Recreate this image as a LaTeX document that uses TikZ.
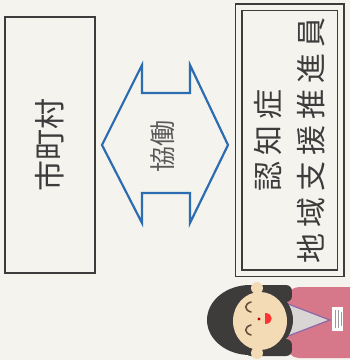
\documentclass[tikz,border=0pt]{standalone}
\usepackage{fontspec}
\setmainfont{Noto Sans CJK JP}
\newfontfamily\widefont[LetterSpace=20]{Noto Sans CJK JP}

\definecolor{paper}{HTML}{F5F3EE}
\definecolor{ink}{HTML}{3C3C3C}
\definecolor{kyoblue}{HTML}{2C6DB2}
\definecolor{hair}{HTML}{3E3B3B}
\definecolor{skin}{HTML}{F3DBB6}
\definecolor{coat}{HTML}{D7788A}
\definecolor{shirt}{HTML}{DAD5D5}
\definecolor{lanyard}{HTML}{8A6AA8}

\begin{document}
\begin{tikzpicture}[x=1pt,y=-1pt,
  box/.style={draw=ink, line width=1.4pt, rotate=90, inner sep=0pt, text=ink},
  arrowline/.style={draw=kyoblue, line width=2.2pt, line join=miter}]
\fill[paper] (0,0) rectangle (350,360);
\useasboundingbox (0,0) rectangle (350,360);

% the two partners
\node[box, minimum width=256, minimum height=90,
  font=\fontsize{31}{31}\selectfont] (city) at (50,145) {市町村};
\node[box, double=paper, double distance=5pt, minimum width=266, minimum height=102,
  align=center, font=\widefont\fontsize{30}{43}\selectfont] (staff) at (290,140)
  {認知症\\地域支援推進員};

% double arrow between them
\draw[arrowline] (102,145) -- (142,65) -- (142,93) -- (190,93) -- (190,65)
  -- (228,145) -- (190,223) -- (190,193) -- (142,193) -- (142,223) -- cycle;
\node[rotate=90, text=ink!85, font=\fontsize{26}{26}\selectfont] (coop) at (163,146) {協働};

% the staff member
\fill[coat, rounded corners=12] (287,287) rectangle (365,358);
\fill[shirt] (288,304) -- (328,320) -- (288,336) -- cycle;
\draw[lanyard, line width=1.2pt] (288,304) -- (330,320) -- (288,336);
\fill[white] (332,307) rectangle (343,331);
\draw[black!40, line width=0.6pt] (335,310) -- (335,328) (338,310) -- (338,328) (341,312) -- (341,326);
\fill[yellow!70!orange!70] (282,309) rectangle (291,330);
\fill[hair] (250,320) ellipse (43 and 35);
\fill[hair, rounded corners=6] (245,285) rectangle (292,302);
\fill[hair, rounded corners=6] (245,339) rectangle (292,356);
\fill[skin] (257,288) circle (6);
\fill[skin] (257,353) circle (6);
\fill[skin] (260,321) ellipse (27 and 29);
\draw[hair!70!brown, line width=1.6pt, line cap=round]
  (251,302) .. controls (244,304) and (244,310) .. (251,312)
  (251,325) .. controls (244,327) and (244,333) .. (251,335);
\fill[red!75!black] (259,319) circle (1.6);
\fill[red!80] (265,313) .. controls (274,313) and (274,324) .. (265,324) -- cycle;
\end{tikzpicture}
\end{document}
